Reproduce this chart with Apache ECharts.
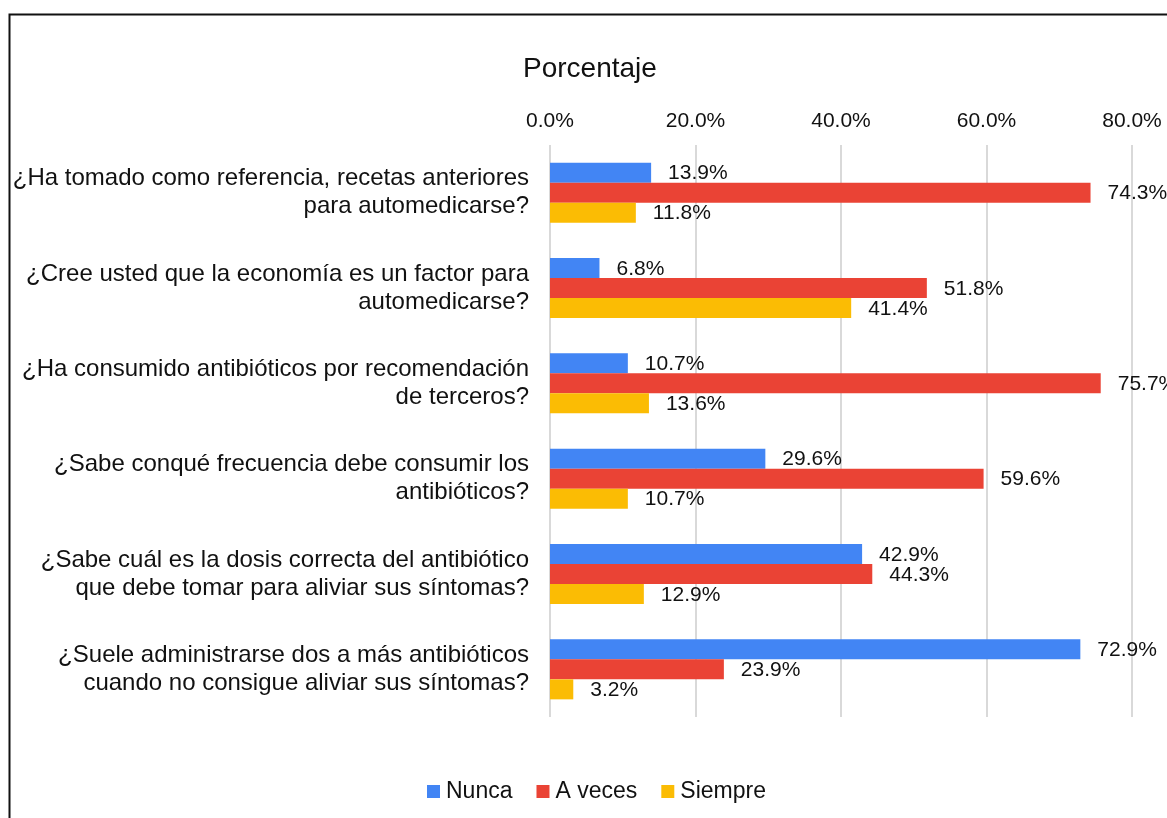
<!DOCTYPE html>
<html>
<head>
<meta charset="utf-8">
<title>Porcentaje</title>
<script src="https://cdn.jsdelivr.net/npm/echarts@6/dist/echarts.min.js"></script>
<style>
  html, body { margin: 0; padding: 0; background: #fff; }
  #chart { width: 1167px; height: 818px; }
</style>
</head>
<body>
<div id="chart"></div>
<script>
var categories = [
  '¿Ha tomado como referencia, recetas anteriores\npara automedicarse?',
  '¿Cree usted que la economía es un factor para\nautomedicarse?',
  '¿Ha consumido antibióticos por recomendación\nde terceros?',
  '¿Sabe conqué frecuencia debe consumir los\nantibióticos?',
  '¿Sabe cuál es la dosis correcta del antibiótico\nque debe tomar para aliviar sus síntomas?',
  '¿Suele administrarse dos a más antibióticos\ncuando no consigue aliviar sus síntomas?'
]
var nunca = [13.9, 6.8, 10.7, 29.6, 42.9, 72.9]
var aVeces = [74.3, 51.8, 75.7, 59.6, 44.3, 23.9]
var siempre = [11.8, 41.4, 13.6, 10.7, 12.9, 3.2]

var font = 'Liberation Sans, Arial, sans-serif'
var textColor = '#111'

function pct(v) {
  return Number(v).toFixed(1) + '%'
}

function barSeries(name, data, color) {
  return {
    name: name,
    type: 'bar',
    data: data,
    barGap: '0%',
    barCategoryGap: '37%',
    itemStyle: { color: color },
    label: {
      show: true,
      position: 'right',
      distance: 17,
      offset: [0, 1],
      fontFamily: font,
      fontSize: 21,
      color: textColor,
      formatter: function (p) { return pct(p.value) }
    }
  }
}

var chart = echarts.init(document.getElementById('chart'))
chart.setOption({
  animation: false,
  textStyle: { fontFamily: font },
  title: {
    text: 'Porcentaje',
    left: 518,
    top: 50,
    textStyle: { fontFamily: font, fontSize: 28, fontWeight: 'normal', color: textColor }
  },
  graphic: [{
    type: 'rect',
    shape: { x: 9.5, y: 14.5, width: 2000, height: 2000 },
    style: { fill: 'none', stroke: '#111', lineWidth: 2 }
  }],
  legend: {
    left: 427,
    top: 780,
    padding: 0,
    itemWidth: 13,
    itemHeight: 13,
    itemGap: 24,
    icon: 'rect',
    textStyle: { fontFamily: font, fontSize: 23, color: textColor, padding: [0, 0, 0, 1] }
  },
  grid: {
    left: 550,
    right: 35,
    top: 145,
    bottom: 101,
    containLabel: false
  },
  xAxis: {
    type: 'value',
    position: 'top',
    min: 0,
    max: 80,
    interval: 20,
    axisLine: { show: false },
    axisTick: { show: false },
    splitLine: { lineStyle: { color: '#d9d9d9', width: 2 } },
    axisLabel: {
      margin: 13,
      fontFamily: font,
      fontSize: 21,
      color: textColor,
      formatter: pct
    }
  },
  yAxis: {
    type: 'category',
    inverse: true,
    data: categories,
    axisLine: { show: false },
    axisTick: { show: false },
    axisLabel: {
      margin: 21,
      lineHeight: 28,
      padding: [6, 0, 0, 0],
      align: 'right',
      fontFamily: font,
      fontSize: 24,
      color: textColor
    }
  },
  series: [
    barSeries('Nunca', nunca, '#4285f4'),
    barSeries('A veces', aVeces, '#ea4335'),
    barSeries('Siempre', siempre, '#fbbc04')
  ]
})
</script>
</body>
</html>
